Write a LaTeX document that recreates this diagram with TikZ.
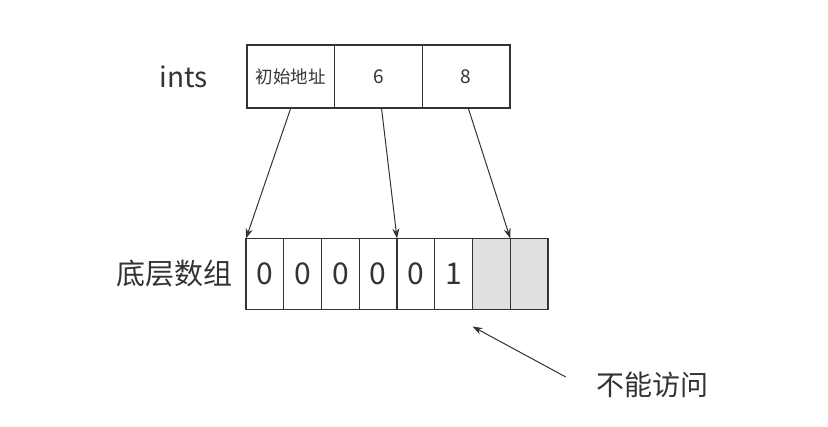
\documentclass[tikz,border=0pt]{standalone}
\usepackage{fontspec}
\setmainfont{Noto Sans CJK SC}
\usetikzlibrary{arrows.meta,positioning}
\definecolor{linegray}{HTML}{333333}
\definecolor{cellgray}{HTML}{E0E0E0}
\tikzset{
  slot/.style={draw=linegray, line width=1.3pt, minimum width=87.7pt, minimum height=63pt,
    inner sep=0pt, outer sep=0pt, text=linegray, font=\fontsize{19}{19}\selectfont},
  cell/.style={draw=linegray, line width=1.3pt, minimum width=37.75pt, minimum height=71pt,
    inner sep=0pt, outer sep=0pt, text=linegray, font=\fontsize{30}{30}\selectfont},
  tag/.style={inner sep=0pt, text=linegray, font=\fontsize{28}{28}\selectfont},
  ptr/.style={-{Stealth[length=10pt,width=7pt]}, line width=1pt, draw=linegray},
}
\begin{document}
\begin{tikzpicture}[x=1pt,y=-1pt]
  \useasboundingbox (0,0) rectangle (828,427);
  % slice header
  \node[slot, font=\fontsize{17.5}{17.5}\selectfont] (addr) at (290.8,76.5) {初始地址};
  \node[slot, anchor=west] (len) at (addr.east) {6};
  \node[slot, anchor=west] (cap) at (len.east) {8};
  \node[tag, left=39pt of addr] (ints) {ints};
  % backing array
  \foreach \v [count=\i] in {0,0,0,0,0,1}
    \node[cell] (c\i) at ({264.9+37.75*(\i-1)},274) {\v};
  \foreach \i in {7,8}
    \node[cell, fill=cellgray] (c\i) at ({264.9+37.75*(\i-1)},274) {};
  \node[tag, font=\fontsize{29}{29}\selectfont, left=13pt of c1] (arr) {底层数组};
  \node[tag] (na) at (652,385) {不能访问};
  % pointers
  \draw[ptr] (addr.south) -- (c1.north west);
  \draw[ptr] ([xshift=3pt]len.south) -- (c5.north west);
  \draw[ptr] ([xshift=2pt]cap.south) -- (c8.north west);
  \draw[ptr] ([xshift=-30pt,yshift=8pt]na.west) -- ([yshift=-17pt]c7.south west);
\end{tikzpicture}
\end{document}
